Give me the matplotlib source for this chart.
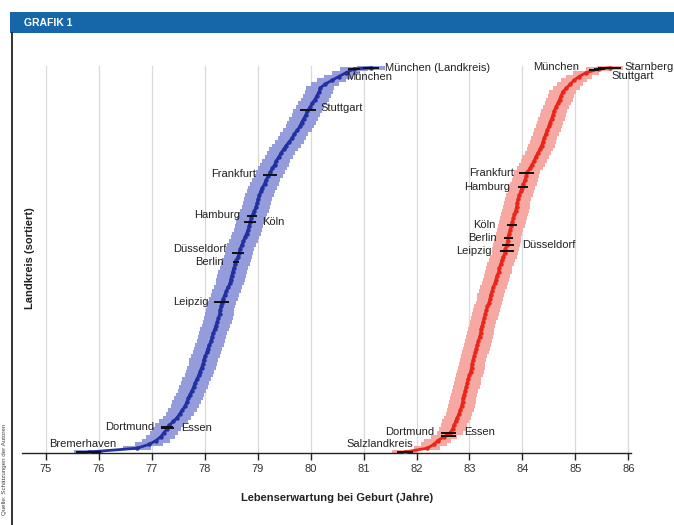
import matplotlib
matplotlib.use('Agg')
import matplotlib.pyplot as plt
from matplotlib.patches import Rectangle
import numpy as np

plt.rcParams['font.family'] = ['Liberation Sans', 'DejaVu Sans']

# Landkreise sorted by life expectancy, every 4th rank plus the top one
ranks = np.r_[np.arange(1, 402, 4), 402]

men = [
    75.81, 76.72, 76.95, 77.08, 77.17, 77.23, 77.28, 77.33, 77.41, 77.48,
    77.53, 77.58, 77.63, 77.66, 77.69, 77.72, 77.76, 77.79, 77.82, 77.85,
    77.89, 77.91, 77.94, 77.97, 77.98, 78.01, 78.04, 78.06, 78.09, 78.12,
    78.14, 78.16, 78.19, 78.21, 78.24, 78.26, 78.28, 78.29, 78.31, 78.32,
    78.35, 78.38, 78.41, 78.44, 78.48, 78.49, 78.51, 78.53, 78.55, 78.58,
    78.60, 78.63, 78.65, 78.67, 78.70, 78.73, 78.76, 78.79, 78.82, 78.84,
    78.86, 78.88, 78.91, 78.94, 78.97, 78.99, 79.01, 79.03, 79.06, 79.09,
    79.13, 79.16, 79.20, 79.24, 79.28, 79.32, 79.35, 79.40, 79.44, 79.49,
    79.54, 79.60, 79.65, 79.69, 79.75, 79.80, 79.83, 79.87, 79.91, 79.94,
    79.99, 80.03, 80.08, 80.12, 80.16, 80.18, 80.27, 80.40, 80.53, 80.67,
    80.82, 81.14,
]

women = [
    81.78, 82.20, 82.33, 82.40, 82.52, 82.63, 82.68, 82.71, 82.74, 82.77,
    82.80, 82.83, 82.85, 82.87, 82.88, 82.90, 82.92, 82.94, 82.96, 82.97,
    83.00, 83.02, 83.04, 83.05, 83.07, 83.09, 83.11, 83.13, 83.15, 83.17,
    83.19, 83.21, 83.22, 83.24, 83.26, 83.28, 83.30, 83.32, 83.34, 83.37,
    83.39, 83.40, 83.43, 83.45, 83.48, 83.50, 83.52, 83.55, 83.56, 83.59,
    83.61, 83.64, 83.67, 83.68, 83.70, 83.72, 83.73, 83.75, 83.77, 83.79,
    83.81, 83.83, 83.85, 83.87, 83.89, 83.90, 83.92, 83.94, 83.97, 83.99,
    84.02, 84.05, 84.07, 84.09, 84.14, 84.18, 84.22, 84.25, 84.29, 84.33,
    84.36, 84.39, 84.41, 84.44, 84.47, 84.50, 84.52, 84.55, 84.58, 84.60,
    84.63, 84.67, 84.70, 84.73, 84.76, 84.83, 84.90, 84.97, 85.07, 85.20,
    85.45, 85.65,
]

ci_men = 0.27
ci_women = 0.25

# highlighted cities: name, rank, value, half width of interval
men_cities = ['Bremerhaven', 'Dortmund', 'Essen', 'Leipzig', 'Berlin', 'Düsseldorf',
              'Köln', 'Hamburg', 'Frankfurt', 'Stuttgart', 'München', 'München (Landkreis)']
men_city_rank = [1, 27, 26, 158, 199, 209, 241, 247, 290, 358, 401, 402]
men_city_val = [75.81, 77.29, 77.30, 78.32, 78.59, 78.63, 78.85, 78.89, 79.23, 79.95, 80.82, 81.14]
men_city_hw = [0.24, 0.12, 0.12, 0.14, 0.06, 0.12, 0.11, 0.09, 0.13, 0.15, 0.11, 0.16]

women_cities = ['Salzlandkreis', 'Dortmund', 'Essen', 'Leipzig', 'Düsseldorf', 'Berlin',
                'Köln', 'Hamburg', 'Frankfurt', 'München', 'Stuttgart', 'Starnberg']
women_city_rank = [1, 21, 18, 211, 217, 224, 238, 278, 292, 400, 401, 402]
women_city_val = [81.78, 82.61, 82.61, 83.71, 83.73, 83.74, 83.80, 84.01, 84.08, 85.35, 85.45, 85.65]
women_city_hw = [0.15, 0.14, 0.14, 0.14, 0.12, 0.08, 0.10, 0.10, 0.14, 0.10, 0.10, 0.22]

# label placement (pixel offset from the city mark, alignment)
men_label_pos = {
    'Bremerhaven': (-6, 8, 'center'), 'Dortmund': (-13, 0, 'right'), 'Essen': (13, 0, 'left'),
    'Leipzig': (-13, 0, 'right'), 'Berlin': (-12, 0, 'right'), 'Düsseldorf': (-12, 4, 'right'),
    'Köln': (12, 0, 'left'), 'Hamburg': (-12, 1, 'right'), 'Frankfurt': (-14, 1, 'right'),
    'Stuttgart': (13, 2, 'left'), 'München': (-8, -8, 'left'), 'München (Landkreis)': (14, 0, 'left'),
}
women_label_pos = {
    'Salzlandkreis': (8, 8, 'right'), 'Dortmund': (-15, 1, 'right'), 'Essen': (15, 4, 'left'),
    'Leipzig': (-15, 0, 'right'), 'Düsseldorf': (14, 0, 'left'), 'Berlin': (-12, 0, 'right'),
    'Köln': (-16, 0, 'right'), 'Hamburg': (-13, 0, 'right'), 'Frankfurt': (-13, 0, 'right'),
    'München': (-15, 3, 'right'), 'Stuttgart': (12, -7, 'left'), 'Starnberg': (15, 1, 'left'),
}

fig = plt.figure(figsize=(6.74, 5.25), dpi=100)
W, H = 674, 525

# header band and frame
fig.patches.append(Rectangle((10 / W, 1 - 33 / H), 1, 21 / H, transform=fig.transFigure,
                             facecolor='#1667a9', edgecolor='none'))
fig.text(24 / W, 1 - 22.5 / H, 'GRAFIK 1', color='white', fontsize=7.5, fontweight='bold',
         va='center', ha='left')
fig.add_artist(plt.Line2D([12 / W, 12 / W], [0, 1 - 33 / H], transform=fig.transFigure,
                          color='#222222', lw=1.3))

ax = fig.add_axes([22 / W, 72 / H, 609 / W, 387 / H])
ax.set_xlim(74.55, 86.05)
ax.set_ylim(0, 404)
ax.set_xticks(range(75, 87))
ax.set_yticks([])
for s in ['left', 'right', 'top']:
    ax.spines[s].set_visible(False)
ax.spines['bottom'].set_color('#222222')
ax.spines['bottom'].set_linewidth(1.0)
ax.tick_params(axis='x', direction='out', length=5, width=1, color='#222222',
               labelsize=8, labelcolor='#333333', pad=3)
ax.grid(axis='x', color='#d9d9d9', lw=0.9)
ax.set_axisbelow(True)

men_arr = np.array(men)
women_arr = np.array(women)

# confidence intervals as light bars, estimates as the dark line
ax.hlines(ranks, men_arr - ci_men, men_arr + ci_men, colors='#959cdc', lw=2.9, zorder=2)
ax.plot(men_arr, ranks, color='#2330a0', lw=2.0, marker='o', ms=2.2, zorder=3)
ax.hlines(ranks, women_arr - ci_women, women_arr + ci_women, colors='#f6a8a3', lw=2.9, zorder=2)
ax.plot(women_arr, ranks, color='#e8261b', lw=2.0, marker='o', ms=2.2, zorder=3)


def draw_cities(names, rk, vals, hws, pos):
    for n, r, v, hw in zip(names, rk, vals, hws):
        ax.hlines(r, v - hw, v + hw, colors='#111111', lw=1.4, zorder=4, clip_on=False)
        dx, dy, ha = pos[n]
        ax.annotate(n, (v, r), xytext=(dx, dy), textcoords='offset pixels',
                    ha=ha, va='center', fontsize=8, color='#222222', annotation_clip=False)


draw_cities(men_cities, men_city_rank, men_city_val, men_city_hw, men_label_pos)
draw_cities(women_cities, women_city_rank, women_city_val, women_city_hw, women_label_pos)

fig.text(30 / W, 1 - 258 / H, 'Landkreis (sortiert)', rotation=90, ha='center', va='center',
         fontsize=8, fontweight='bold', color='#222222')
fig.text(337 / W, 1 - 498 / H, 'Lebenserwartung bei Geburt (Jahre)', ha='center', va='center',
         fontsize=8, fontweight='bold', color='#222222')
fig.text(5 / W, 1 - 424 / H, 'Quelle: Schätzungen der Autoren', rotation=90, ha='center',
         va='top', fontsize=4.5, color='#444444')

fig.savefig('out.png', dpi=100)
plt.close(fig)
